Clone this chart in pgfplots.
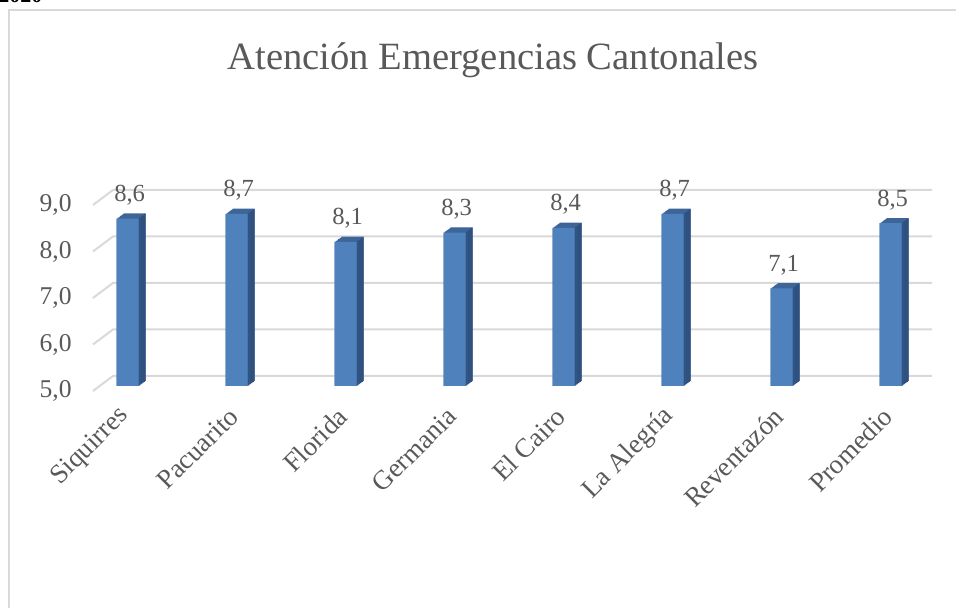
\documentclass[border=0pt]{standalone}
\usepackage{pgfplots}
\pgfplotsset{compat=1.18}
\usepackage{pgfplotstable}
\usepackage{fontspec}
\setmainfont{Liberation Serif}
\definecolor{frontc}{HTML}{4F81BD}
\definecolor{topc}{HTML}{3D6598}
\definecolor{sidec}{HTML}{2F5180}
\definecolor{gridc}{HTML}{D9D9D9}
\definecolor{txt}{HTML}{595959}
\pgfplotstableread{
x v
0 8.6
1 8.7
2 8.1
3 8.3
4 8.4
5 8.7
6 7.1
7 8.5
}\data
\begin{document}
\begin{tikzpicture}
\useasboundingbox (0,0) rectangle (478pt,304pt);
\clip (0,0) rectangle (478pt,304pt);
\draw[gridc, line width=1pt] (4.5pt,-20pt) -- (4.5pt,299pt) -- (520pt,299pt);
\node[anchor=base west, inner sep=0pt, font=\bfseries\fontsize{11}{13}\selectfont] at (-1pt,302.5pt) {2020};
\node[anchor=base, inner sep=0pt, text=txt, font=\fontsize{19.3}{23}\selectfont] at (246.5pt,269pt) {Atención Emergencias Cantonales};
\begin{axis}[
  at={(46.5pt,108.5pt)}, anchor=south west,
  scale only axis, width=409.5pt, height=93pt,
  xmin=-0.257, xmax=7.257, ymin=5, ymax=9,
  y coord trafo/.code={\pgfmathparse{#1-5}},
  y coord inv trafo/.code={\pgfmathparse{#1+5}},
  clip=false,
  /pgf/number format/assume math mode=true,
  axis line style={draw=none},
  major tick length=0pt, tick style={draw=none},
  xtick={0,...,7},
  xticklabels={Siquirres,Pacuarito,Florida,Germania,El Cairo,La Alegría,Reventazón,Promedio},
  ytick={5,6,7,8,9},
  yticklabel={\pgfmathprintnumber[fixed,fixed zerofill,precision=1,use comma,assume math mode=true]{\tick}},
  yticklabel style={anchor=east, inner sep=0pt, xshift=-10.5pt, text=txt, font=\fontsize{12.8}{15}\selectfont},
  xticklabel style={inner sep=0pt, anchor=east, xshift=2pt, yshift=-10.5pt, rotate=45, text=txt, font=\fontsize{13.5}{16}\selectfont},
]
\pgfplotsinvokeforeach{5,6,7,8,9}{
  \draw[gridc, line width=1pt] (axis cs:-0.257,#1) -- ([xshift=10pt,yshift=7.5pt]axis cs:-0.257,#1) -- ([xshift=10pt,yshift=7.5pt]axis cs:7.257,#1);
}
\pgfplotsinvokeforeach{0,...,8}{
  \addplot[ybar, bar width=11pt, bar shift=0pt, fill=topc, draw=none,
    xshift={3.33pt+#1*0.4375pt}, yshift={2.5pt+#1*0.325pt}] table[x=x,y=v]{\data};
}
\pgfplotsinvokeforeach{1,...,8}{
  \addplot[ybar, bar width=0.5pt, bar shift={5.5pt+(#1-0.5)*0.4375pt}, fill=sidec, draw=none,
    xshift=3.33pt, yshift={2.5pt+(#1-0.5)*0.325pt}] table[x=x,y=v]{\data};
}
\addplot[ybar, bar width=11pt, bar shift=0pt, fill=frontc, draw=none,
  xshift=3.33pt, yshift=2.5pt,
  point meta=explicit, nodes near coords,
  nodes near coords style={anchor=base, inner sep=0pt, yshift=8.5pt, xshift=1pt, text=txt, font=\fontsize{12.3}{14}\selectfont,
    /pgf/number format/.cd, fixed, fixed zerofill, precision=1, use comma, assume math mode=true}]
  table[x=x,y=v,meta=v]{\data};
\end{axis}
\end{tikzpicture}
\end{document}
